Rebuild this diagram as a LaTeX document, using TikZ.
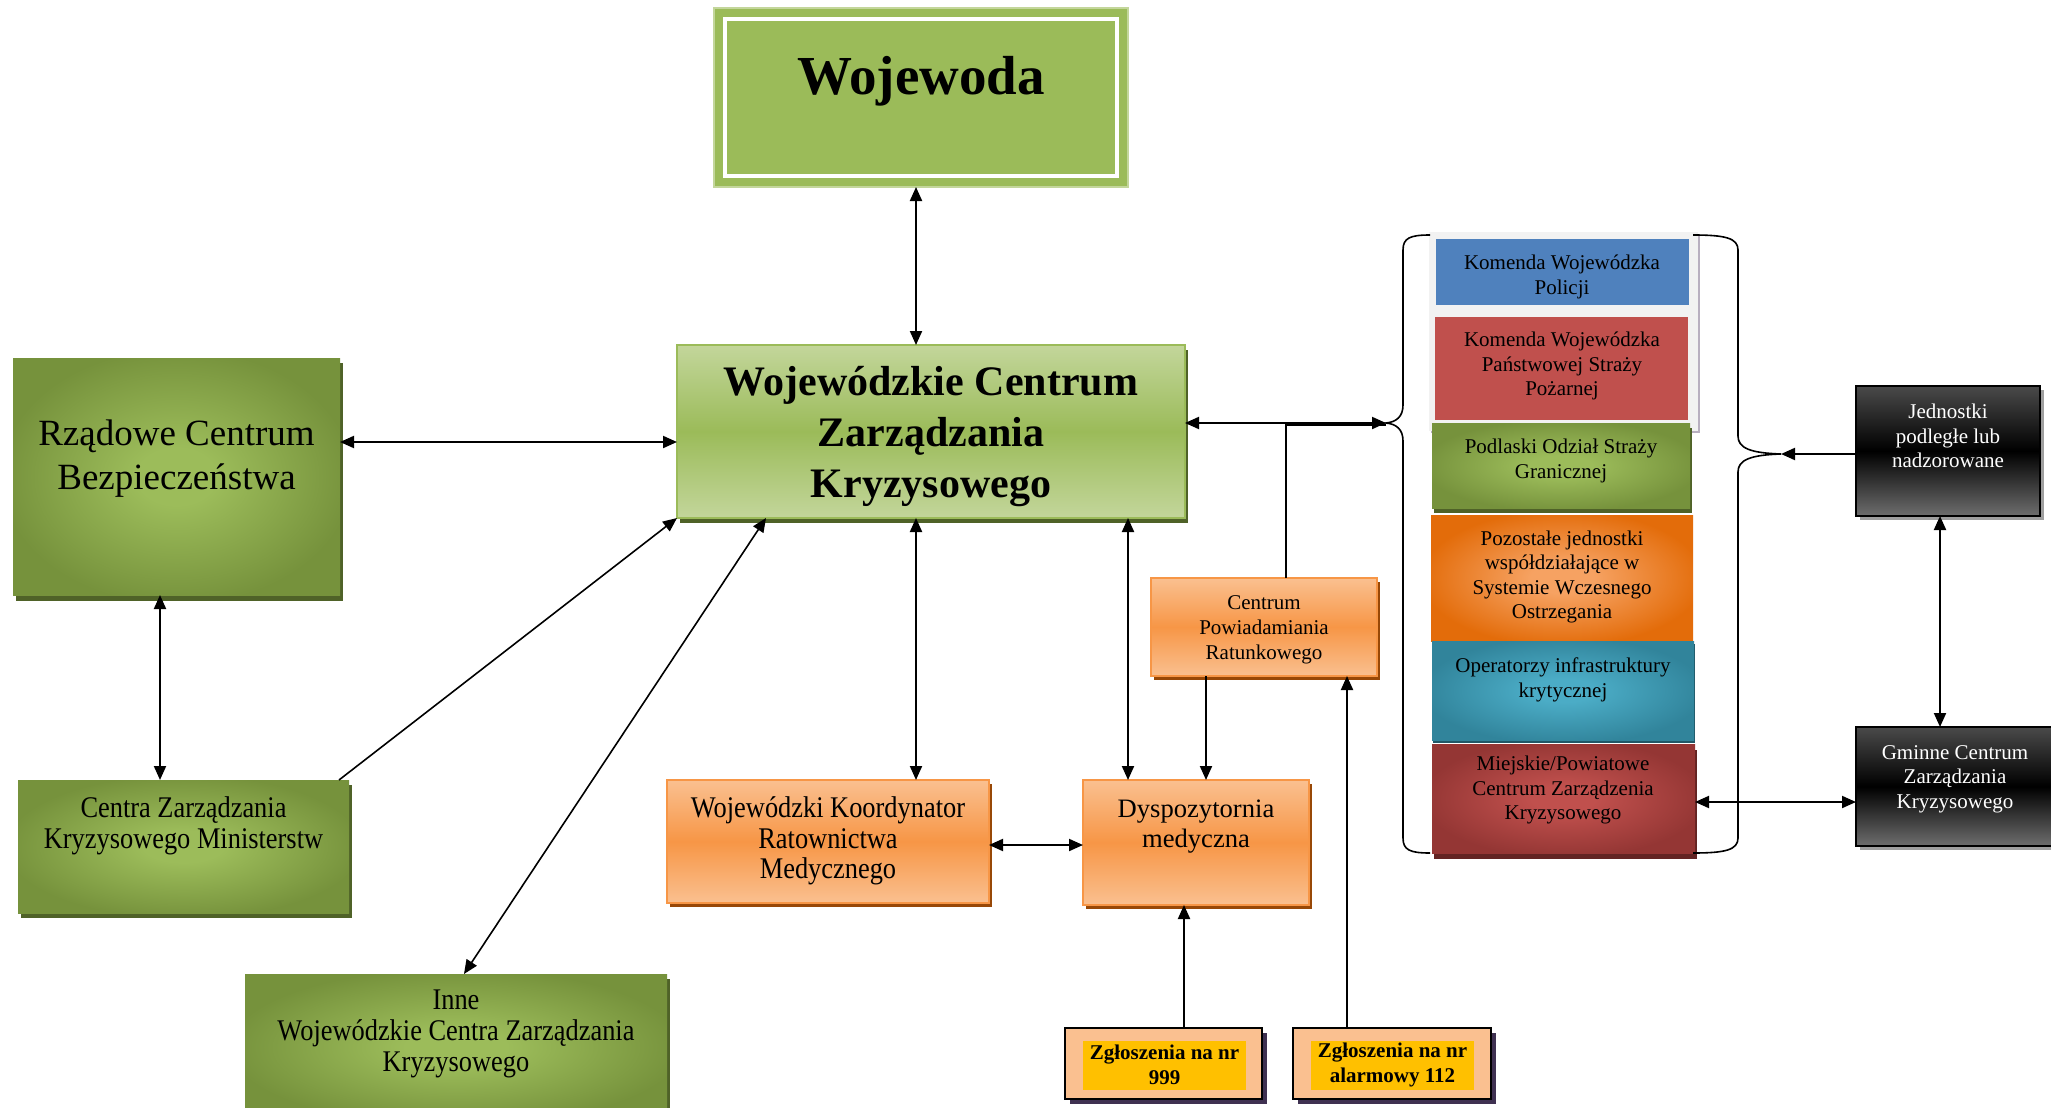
\documentclass[tikz,border=0pt]{standalone}
\usepackage{fontspec}
\setmainfont{Liberation Serif}
\newfontfamily\condfont[FakeStretch=0.88]{Liberation Serif}
\usetikzlibrary{arrows.meta,shadows}

\definecolor{gLight}{HTML}{C3D69B}
\definecolor{gMid}{HTML}{9BBB59}
\definecolor{gCen}{HTML}{9CBC5A}
\definecolor{gDark}{HTML}{76923C}
\definecolor{gShadow}{HTML}{4F6228}
\definecolor{oLight}{HTML}{FAC090}
\definecolor{oMid}{HTML}{F79646}
\definecolor{oCen}{HTML}{F6A262}
\definecolor{oDark}{HTML}{E36C0A}
\definecolor{oShadow}{HTML}{984807}
\definecolor{bBlue}{HTML}{4F81BD}
\definecolor{rRed}{HTML}{C0504D}
\definecolor{rCen}{HTML}{C0504D}
\definecolor{rDark}{HTML}{943634}
\definecolor{rShadow}{HTML}{632423}
\definecolor{tCen}{HTML}{4BACC6}
\definecolor{tDark}{HTML}{31849B}
\definecolor{tShadow}{HTML}{205867}
\definecolor{yGold}{HTML}{FFC000}
\definecolor{pShadow}{HTML}{3F3151}
\definecolor{frameGrey}{HTML}{F2F2F2}
\definecolor{frameShadow}{HTML}{B8AFC0}
\definecolor{kTop}{HTML}{4A4A4A}
\definecolor{kBot}{HTML}{6E6E6E}

\pgfdeclareradialshading{greenrad}{\pgfpoint{0bp}{0bp}}{color(0bp)=(gCen); color(6bp)=(gCen); color(27bp)=(gDark); color(50bp)=(gDark)}
\pgfdeclareradialshading{orangerad}{\pgfpoint{0bp}{0bp}}{color(0bp)=(oCen); color(6bp)=(oCen); color(27bp)=(oDark); color(50bp)=(oDark)}
\pgfdeclareradialshading{tealrad}{\pgfpoint{0bp}{0bp}}{color(0bp)=(tCen); color(6bp)=(tCen); color(27bp)=(tDark); color(50bp)=(tDark)}
\pgfdeclareradialshading{redrad}{\pgfpoint{0bp}{0bp}}{color(0bp)=(rCen); color(6bp)=(rCen); color(27bp)=(rDark); color(50bp)=(rDark)}

\newcommand\stackfont{\fontsize{10.5pt}{12.3pt}\selectfont}

\begin{document}
\begin{tikzpicture}[x=0.5pt,y=-0.5pt,
  >={Triangle[length=7pt,width=6pt]},
  bx/.style={rectangle, anchor=north west, inner sep=0pt, outer sep=0pt},
  txt/.style={inner sep=0pt, align=center},
  con/.style={line width=1pt},
  thin con/.style={line width=0.8pt},
  brace/.style={line width=0.8pt},
  gshadow/.style={drop shadow={shadow xshift=1.5pt, shadow yshift=-2.5pt, fill=gShadow, opacity=1}},
  oshadow/.style={drop shadow={shadow xshift=1.5pt, shadow yshift=-2pt, fill=oShadow, opacity=1}},
  greenbox/.style={bx, shade, shading=greenrad, gshadow},
  orangebox/.style={bx, top color=oLight, bottom color=oLight, middle color=oMid, draw=oMid, line width=0.8pt, oshadow},
  callbox/.style={bx, fill=oLight, draw=black, line width=1.3pt, drop shadow={shadow xshift=2.5pt, shadow yshift=-2.5pt, fill=pShadow, opacity=1}},
  goldbox/.style={fill=yGold, inner sep=0pt, align=center, font=\bfseries\fontsize{10.5pt}{12.5pt}\selectfont},
  blackbox/.style={bx, top color=kTop, bottom color=kBot, middle color=black, draw=black, line width=0.8pt, drop shadow={shadow xshift=2pt, shadow yshift=-2pt, fill=gray!75, opacity=1}},
  condtxt/.style={txt, font=\condfont\fontsize{15pt}{15.3pt}\selectfont},
  stacktxt/.style={txt, font=\stackfont}
]
\useasboundingbox (0,0) rectangle (2051,1108);
\fill[white] (0,0) rectangle (2051,1108);

% Wojewoda
\node[bx, fill=gMid, draw=gLight, line width=0.6pt, minimum width=207pt, minimum height=89.5pt] (woj) at (714,8) {};
\draw[white, line width=2pt] ([xshift=5.5pt,yshift=-5.5pt]woj.north west) rectangle ([xshift=-5.5pt,yshift=5.5pt]woj.south east);
\node[txt, font=\bfseries\fontsize{27.5pt}{30pt}\selectfont] (twoj) at (921,81) {Wojewoda};

% Wojewodzkie Centrum
\node[bx, top color=gLight, bottom color=gLight, middle color=gMid, draw=gMid, line width=0.8pt, gshadow, minimum width=254pt, minimum height=86.5pt] (wczk) at (677,345) {};
\node[txt, font=\bfseries\fontsize{21pt}{25.5pt}\selectfont] (twczk) at (931,437) {Wojewódzkie Centrum\\Zarządzania\\Kryzysowego};

% green boxes left
\node[greenbox, drop shadow={shadow xshift=1.5pt, shadow yshift=-3pt, fill=gShadow, opacity=1}, minimum width=163.5pt, minimum height=118.5pt] (rcb) at (13,358) {};
\node[txt, font=\fontsize{18.5pt}{22pt}\selectfont] (trcb) at (176.5,459) {Rządowe Centrum\\Bezpieczeństwa};

\node[greenbox, minimum width=165.5pt, minimum height=66.5pt] (czkm) at (18,780) {};
\node[condtxt] (tczkm) at (183.5,826) {Centra Zarządzania\\Kryzysowego Ministerstw};

\node[greenbox, minimum width=211pt, minimum height=73pt] (inne) at (245,974) {};
\node[condtxt] (tinne) at (456,1034) {Inne\\Wojewódzkie Centra Zarządzania\\Kryzysowego};

% orange boxes
\node[orangebox, minimum width=161pt, minimum height=61.5pt] (wkrm) at (667,780) {};
\node[condtxt] (twkrm) at (828,841) {Wojewódzki Koordynator\\Ratownictwa\\Medycznego};

\node[orangebox, minimum width=113pt, minimum height=62.5pt] (dysp) at (1083,780) {};
\node[txt, font=\fontsize{13.3pt}{15pt}\selectfont] (tdysp) at (1196,827) {Dyspozytornia\\medyczna};

\node[orangebox, minimum width=113pt, minimum height=49pt] (cpr) at (1151,578) {};
\node[txt, font=\fontsize{10.5pt}{12.5pt}\selectfont] (tcpr) at (1264,630) {Centrum\\Powiadamiania\\Ratunkowego};

% call boxes
\node[callbox, minimum width=98.5pt, minimum height=35.5pt] (z999) at (1065,1028) {};
\node[goldbox, minimum width=81.5pt, minimum height=24.5pt] (y999) at (1164.5,1065) {Zgłoszenia na nr\\999};
\node[callbox, minimum width=99pt, minimum height=35.5pt] (z112) at (1293,1028) {};
\node[goldbox, minimum width=81.5pt, minimum height=24.5pt] (y112) at (1392.5,1065) {Zgłoszenia na nr\\alarmowy 112};

% right stack
\node[bx, fill=frameGrey, drop shadow={shadow xshift=1pt, shadow yshift=-1pt, fill=frameShadow, opacity=1}, minimum width=134.5pt, minimum height=99.5pt] (frm) at (1429,232) {};
\node[bx, fill=bBlue, minimum width=126.5pt, minimum height=33pt] (kwp) at (1436,239) {};
\node[stacktxt] (tkwp) at (1562,277) {Komenda Wojewódzka\\Policji};
\node[bx, fill=rRed, minimum width=126.5pt, minimum height=51.5pt] (kwpsp) at (1435,317) {};
\node[stacktxt] (tkwpsp) at (1562,366) {Komenda Wojewódzka\\Państwowej Straży\\Pożarnej};
\node[bx, shade, shading=greenrad, drop shadow={shadow xshift=1pt, shadow yshift=-2.5pt, fill=gShadow, opacity=1}, minimum width=129pt, minimum height=42.5pt] (sg) at (1432,423) {};
\node[stacktxt] (tsg) at (1561,461) {Podlaski Odział Straży\\Granicznej};
\node[bx, shade, shading=orangerad, minimum width=131pt, minimum height=63pt] (pozo) at (1431,515) {};
\node[stacktxt] (tpozo) at (1562,577) {Pozostałe jednostki\\współdziałające w\\Systemie Wczesnego\\Ostrzegania};
\node[bx, shade, shading=tealrad, drop shadow={shadow xshift=0.5pt, shadow yshift=-1.5pt, fill=tShadow, opacity=1}, minimum width=131pt, minimum height=49.5pt] (oper) at (1432,641) {};
\node[stacktxt] (toper) at (1563,680) {Operatorzy infrastruktury\\krytycznej};
\node[bx, shade, shading=redrad, drop shadow={shadow xshift=1pt, shadow yshift=-3pt, fill=rShadow, opacity=1}, minimum width=131.5pt, minimum height=54.5pt] (miej) at (1432,744) {};
\node[stacktxt] (tmiej) at (1563,790) {Miejskie/Powiatowe\\Centrum Zarządzenia\\Kryzysowego};

% braces
\coordinate (lb) at (1386,423);
\coordinate (rb) at (1781,454);
\draw[brace] (1430,235) .. controls (1410,235) and (1403,238) .. (1403,250) -- (1403,405)
  .. controls (1403,417) and (1396,422) .. (lb)
  .. controls (1396,424) and (1403,429) .. (1403,441) -- (1403,838)
  .. controls (1403,850) and (1410,853) .. (1430,853);
\draw[brace] (1693,235) .. controls (1725,235) and (1738,238) .. (1738,250) -- (1738,436)
  .. controls (1738,448) and (1750,453) .. (rb)
  .. controls (1750,455) and (1738,460) .. (1738,472) -- (1738,838)
  .. controls (1738,850) and (1725,853) .. (1693,853);

% black boxes
\node[blackbox, minimum width=92pt, minimum height=65pt] (jedn) at (1856,386) {};
\node[stacktxt, text=white] (tjedn) at (1948,436) {Jednostki\\podległe lub\\nadzorowane};
\node[blackbox, minimum width=99pt, minimum height=59.5pt] (gmin) at (1856,727) {};
\node[stacktxt, text=white] (tgmin) at (1955,779) {Gminne Centrum\\Zarządzania\\Kryzysowego};

% connectors
\draw[con, <->] ([xshift=-2.5pt]woj.south) -- ([xshift=-2.5pt]woj.south |- wczk.north);
\draw[con, <->] ([yshift=17.25pt]rcb.east) -- ([yshift=17.25pt]rcb.east -| wczk.west);
\draw[con, <->] ([xshift=-8.25pt]rcb.south) -- ([xshift=-8.25pt]rcb.south |- czkm.north);
\draw[thin con, ->] ([xshift=-5pt]czkm.north east) -- (wczk.south west);
\draw[thin con, <->] ([xshift=4pt]inne.north) -- ([xshift=44.5pt]wczk.south west);
\draw[con, <->] ([xshift=-7.5pt]wczk.south) -- ([xshift=-7.5pt]wczk.south |- wkrm.north);
\draw[con, <->] ([xshift=98.5pt]wczk.south) -- ([xshift=98.5pt]wczk.south |- dysp.north);
\draw[con, <->] ([yshift=4.25pt]wczk.east) -- (lb);
\draw[con] ([xshift=11pt]cpr.north) |- ([yshift=-0.8pt]lb);
\draw[con, ->] ([xshift=-29pt]cpr.south) -- ([xshift=-29pt]cpr.south |- dysp.north);
\draw[con, <->] ([yshift=-1.75pt]wkrm.east) -- ([yshift=-1.75pt]wkrm.east -| dysp.west);
\draw[con, ->] ([xshift=10.25pt]z999.north) -- ([xshift=10.25pt]z999.north |- dysp.south);
\draw[con, ->] ([xshift=-22.5pt]z112.north) -- ([xshift=-22.5pt]z112.north |- cpr.south);
\draw[con, ->] (rb -| jedn.west) -- (rb);
\draw[con, <->] ([xshift=-4pt]jedn.south) -- ([xshift=-4pt]jedn.south |- gmin.north);
\draw[con, <->] ([yshift=-1.75pt]miej.east) -- ([yshift=-1.75pt]miej.east -| gmin.west);
\end{tikzpicture}
\end{document}
